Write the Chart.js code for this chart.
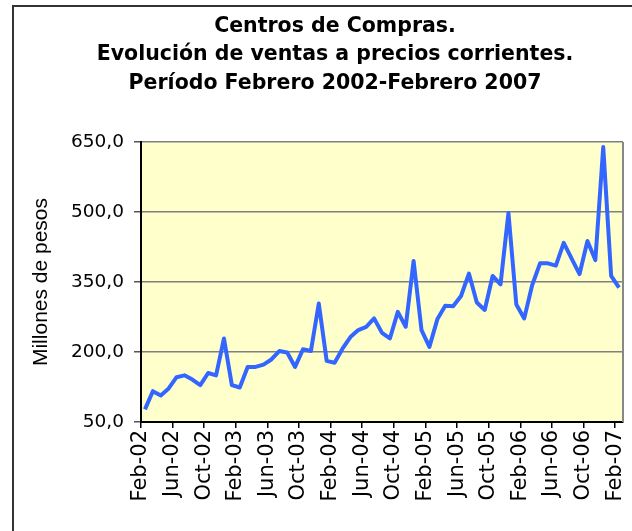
<!DOCTYPE html>
<html>
<head>
<meta charset="utf-8">
<script src="https://cdn.jsdelivr.net/npm/chart.js@4.4.1/dist/chart.umd.min.js"></script>
<style>
  body { margin: 0; background: #fff; }
  #wrap { position: relative; width: 632px; height: 531px; overflow: hidden; }
  #frame { position: absolute; left: 12px; top: 5px; width: 700px; height: 700px; border: 2px solid #333; pointer-events: none; }
</style>
</head>
<body>
<div id="wrap">
  <canvas id="chart" width="632" height="531"></canvas>
  <div id="frame"></div>
</div>
<script>
// monthly sales, Feb-02 .. Feb-07 (millones de pesos)
const months = [
  'Feb-02','Mar-02','Apr-02','May-02','Jun-02','Jul-02','Aug-02','Sep-02','Oct-02','Nov-02','Dec-02',
  'Jan-03','Feb-03','Mar-03','Apr-03','May-03','Jun-03','Jul-03','Aug-03','Sep-03','Oct-03','Nov-03','Dec-03',
  'Jan-04','Feb-04','Mar-04','Apr-04','May-04','Jun-04','Jul-04','Aug-04','Sep-04','Oct-04','Nov-04','Dec-04',
  'Jan-05','Feb-05','Mar-05','Apr-05','May-05','Jun-05','Jul-05','Aug-05','Sep-05','Oct-05','Nov-05','Dec-05',
  'Jan-06','Feb-06','Mar-06','Apr-06','May-06','Jun-06','Jul-06','Aug-06','Sep-06','Oct-06','Nov-06','Dec-06',
  'Jan-07','Feb-07'
]
const sales = [
  77, 116, 107, 122, 146, 150, 141, 129, 155, 150, 229,
  129, 124, 168, 168, 173, 184, 202, 199, 168, 206, 202, 304,
  181, 177, 207, 232, 247, 254, 272, 241, 229, 286, 254, 395,
  247, 211, 270, 299, 298, 320, 368, 306, 290, 363, 345, 498,
  302, 272, 343, 390, 390, 385, 434, 400, 367, 438, 397, 639,
  363, 338
]
const titleLines = [
  'Centros de Compras.',
  'Evolución de ventas a precios corrientes.',
  'Período Febrero 2002-Febrero 2007'
]
const yTitle = 'Millones de pesos'

// yellow plot area + grey right edge
const plotBox = {
  id: 'plotBox',
  beforeDraw(chart) {
    const {ctx, chartArea: a} = chart
    ctx.save()
    ctx.fillStyle = '#FFFFCC'
    ctx.fillRect(a.left, a.top, a.right - a.left, a.bottom - a.top)
    ctx.restore()
  },
  afterDraw(chart) {
    const {ctx, chartArea: a} = chart
    ctx.save()
    ctx.strokeStyle = '#888'
    ctx.lineWidth = 2
    ctx.beginPath()
    ctx.moveTo(a.right, a.top)
    ctx.lineTo(a.right, a.bottom)
    ctx.stroke()
    ctx.restore()
  }
}

const chart = new Chart(document.getElementById('chart').getContext('2d'), {
  type: 'line',
  data: {
    labels: months,
    datasets: [{
      data: sales,
      borderColor: '#3366FF',
      borderWidth: 4,
      borderJoinStyle: 'round',
      pointRadius: 0,
      tension: 0,
      fill: false
    }]
  },
  options: {
    responsive: false,
    animation: false,
    devicePixelRatio: 1,
    layout: { padding: { left: 47, right: 9, top: 0, bottom: 0 } },
    plugins: {
      legend: { display: false },
      tooltip: { enabled: false },
      title: {
        display: true,
        text: titleLines,
        color: '#000',
        font: { family: 'DejaVu Sans', size: 20.5, weight: 'bold', lineHeight: 1.39 },
        padding: { top: 12, bottom: 44.5 }
      }
    },
    scales: {
      x: {
        type: 'category',
        offset: true,
        // fixed height, and no extra side room for the rotated end labels
        afterFit: s => { s.height = 109; s.paddingLeft = 0; s.paddingRight = 0 },
        grid: {
          offset: true,
          drawOnChartArea: false,
          tickLength: 6,
          lineWidth: 1.5,
          color: c => (c.index % 4 === 0 ? '#000' : 'rgba(0,0,0,0)')
        },
        border: { color: '#000', width: 2 },
        ticks: {
          autoSkip: false,
          minRotation: 90,
          maxRotation: 90,
          padding: 2,
          labelOffset: -3.95,
          color: '#000',
          font: { family: 'DejaVu Sans', size: 21 },
          callback: (v, i) => (i % 4 === 0 ? months[i] : '')
        }
      },
      y: {
        min: 50,
        max: 650,
        afterFit: s => { s.width = 94 },
        grid: { color: '#808080', lineWidth: 1.5, tickLength: 7, tickColor: '#555' },
        border: { color: '#000', width: 2 },
        ticks: {
          stepSize: 150,
          padding: 10,
          color: '#000',
          font: { family: 'DejaVu Sans', size: 18.5 },
          callback: v => v.toFixed(1).replace('.', ',')
        },
        title: {
          display: true,
          text: yTitle,
          color: '#000',
          font: { family: "'Liberation Sans', Arial, sans-serif", size: 21 },
          padding: { top: -18, bottom: 0 }
        }
      }
    }
  },
  plugins: [plotBox]
})
</script>
</body>
</html>
